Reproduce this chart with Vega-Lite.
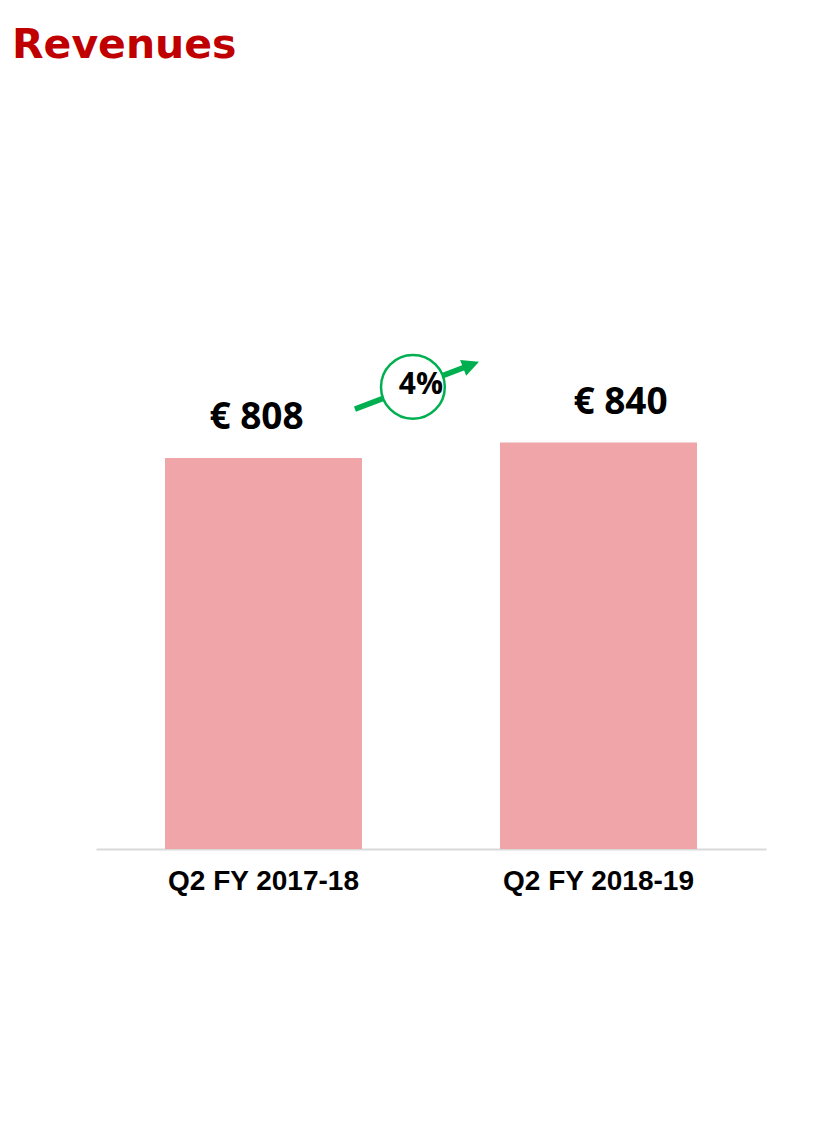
{
  "$schema": "https://vega.github.io/schema/vega-lite/v6.json",
  "autosize": "none",
  "width": 670,
  "height": 749,
  "padding": {"left": 96, "top": 100, "right": 72, "bottom": 283},
  "background": "white",
  "title": {
    "text": "Revenues",
    "anchor": "start",
    "frame": "group",
    "dx": -84,
    "dy": 39,
    "offset": 40,
    "font": "DejaVu Sans",
    "fontWeight": "bold",
    "fontSize": 41,
    "color": "#C00000",
    "baseline": "alphabetic"
  },
  "datasets": {
    "bars": [
      {"period": "Q2 FY 2017-18", "revenue": 808, "label": "€ 808"},
      {"period": "Q2 FY 2018-19", "revenue": 840, "label": "€ 840"}
    ],
    "arrowLine": [
      {"pos": 1.273, "value": 909, "order": 1},
      {"pos": 1.617, "value": 1000, "order": 2}
    ],
    "arrowHead": [
      {"pos": 1.617, "value": 1000}
    ],
    "badge": [
      {"pos": 1.446, "value": 955, "text": "4%"}
    ]
  },
  "layer": [
    {
      "data": {"name": "bars"},
      "layer": [
        {
          "mark": {"type": "bar", "color": "#F0A6A9"},
          "encoding": {
            "x": {
              "field": "period",
              "type": "nominal",
              "sort": null,
              "scale": {"paddingInner": 0.412, "paddingOuter": 0.206},
              "axis": {
                "title": null,
                "labelAngle": 0,
                "labelFont": "Liberation Sans",
                "labelFontWeight": "bold",
                "labelFontSize": 28,
                "labelColor": "#000000",
                "labelPadding": 18,
                "labelLimit": 0,
                "ticks": false,
                "domainColor": "#D9D9D9",
                "domainWidth": 2,
                "grid": false
              }
            },
            "y": {
              "field": "revenue",
              "type": "quantitative",
              "scale": {"domain": [0, 1548], "nice": false, "zero": true},
              "axis": null
            }
          }
        },
        {
          "transform": [{"filter": "datum.revenue == 808"}],
          "mark": {"type": "text", "font": "Open Sans", "fontWeight": "bold", "fontSize": 37, "color": "#000000", "baseline": "middle", "dy": -40, "dx": -7},
          "encoding": {
            "x": {"field": "period", "type": "nominal", "sort": null},
            "y": {"field": "revenue", "type": "quantitative"},
            "text": {"field": "label"}
          }
        },
        {
          "transform": [{"filter": "datum.revenue == 840"}],
          "mark": {"type": "text", "font": "Open Sans", "fontWeight": "bold", "fontSize": 37, "color": "#000000", "baseline": "middle", "dy": -40, "dx": 22},
          "encoding": {
            "x": {"field": "period", "type": "nominal", "sort": null},
            "y": {"field": "revenue", "type": "quantitative"},
            "text": {"field": "label"}
          }
        }
      ]
    },
    {
      "layer": [
        {
          "data": {"name": "arrowLine"},
          "mark": {"type": "line", "color": "#00B050", "strokeWidth": 5.5, "strokeCap": "butt"},
          "encoding": {
            "x": {"field": "pos", "type": "quantitative", "scale": {"domain": [0.5, 2.5], "nice": false, "zero": false}, "axis": null},
            "y": {"field": "value", "type": "quantitative"},
            "order": {"field": "order"}
          }
        },
        {
          "data": {"name": "arrowHead"},
          "mark": {"type": "point", "shape": "M0,-1L0.9,0.8L-0.9,0.8Z", "size": 357, "angle": 69, "filled": true, "color": "#00B050", "opacity": 1},
          "encoding": {
            "x": {"field": "pos", "type": "quantitative"},
            "y": {"field": "value", "type": "quantitative"}
          }
        },
        {
          "data": {"name": "badge"},
          "mark": {"type": "point", "shape": "circle", "size": 4072, "filled": false, "fill": "#FFFFFF", "fillOpacity": 1, "stroke": "#00B050", "strokeWidth": 2.5, "opacity": 1},
          "encoding": {
            "x": {"field": "pos", "type": "quantitative"},
            "y": {"field": "value", "type": "quantitative"}
          }
        },
        {
          "data": {"name": "badge"},
          "mark": {"type": "text", "font": "Open Sans", "fontWeight": "bold", "fontSize": 30, "color": "#000000", "baseline": "middle", "dx": 8, "dy": -2},
          "encoding": {
            "x": {"field": "pos", "type": "quantitative"},
            "y": {"field": "value", "type": "quantitative"},
            "text": {"field": "text"}
          }
        }
      ]
    }
  ],
  "resolve": {"scale": {"x": "independent"}},
  "config": {"view": {"stroke": null}}
}
